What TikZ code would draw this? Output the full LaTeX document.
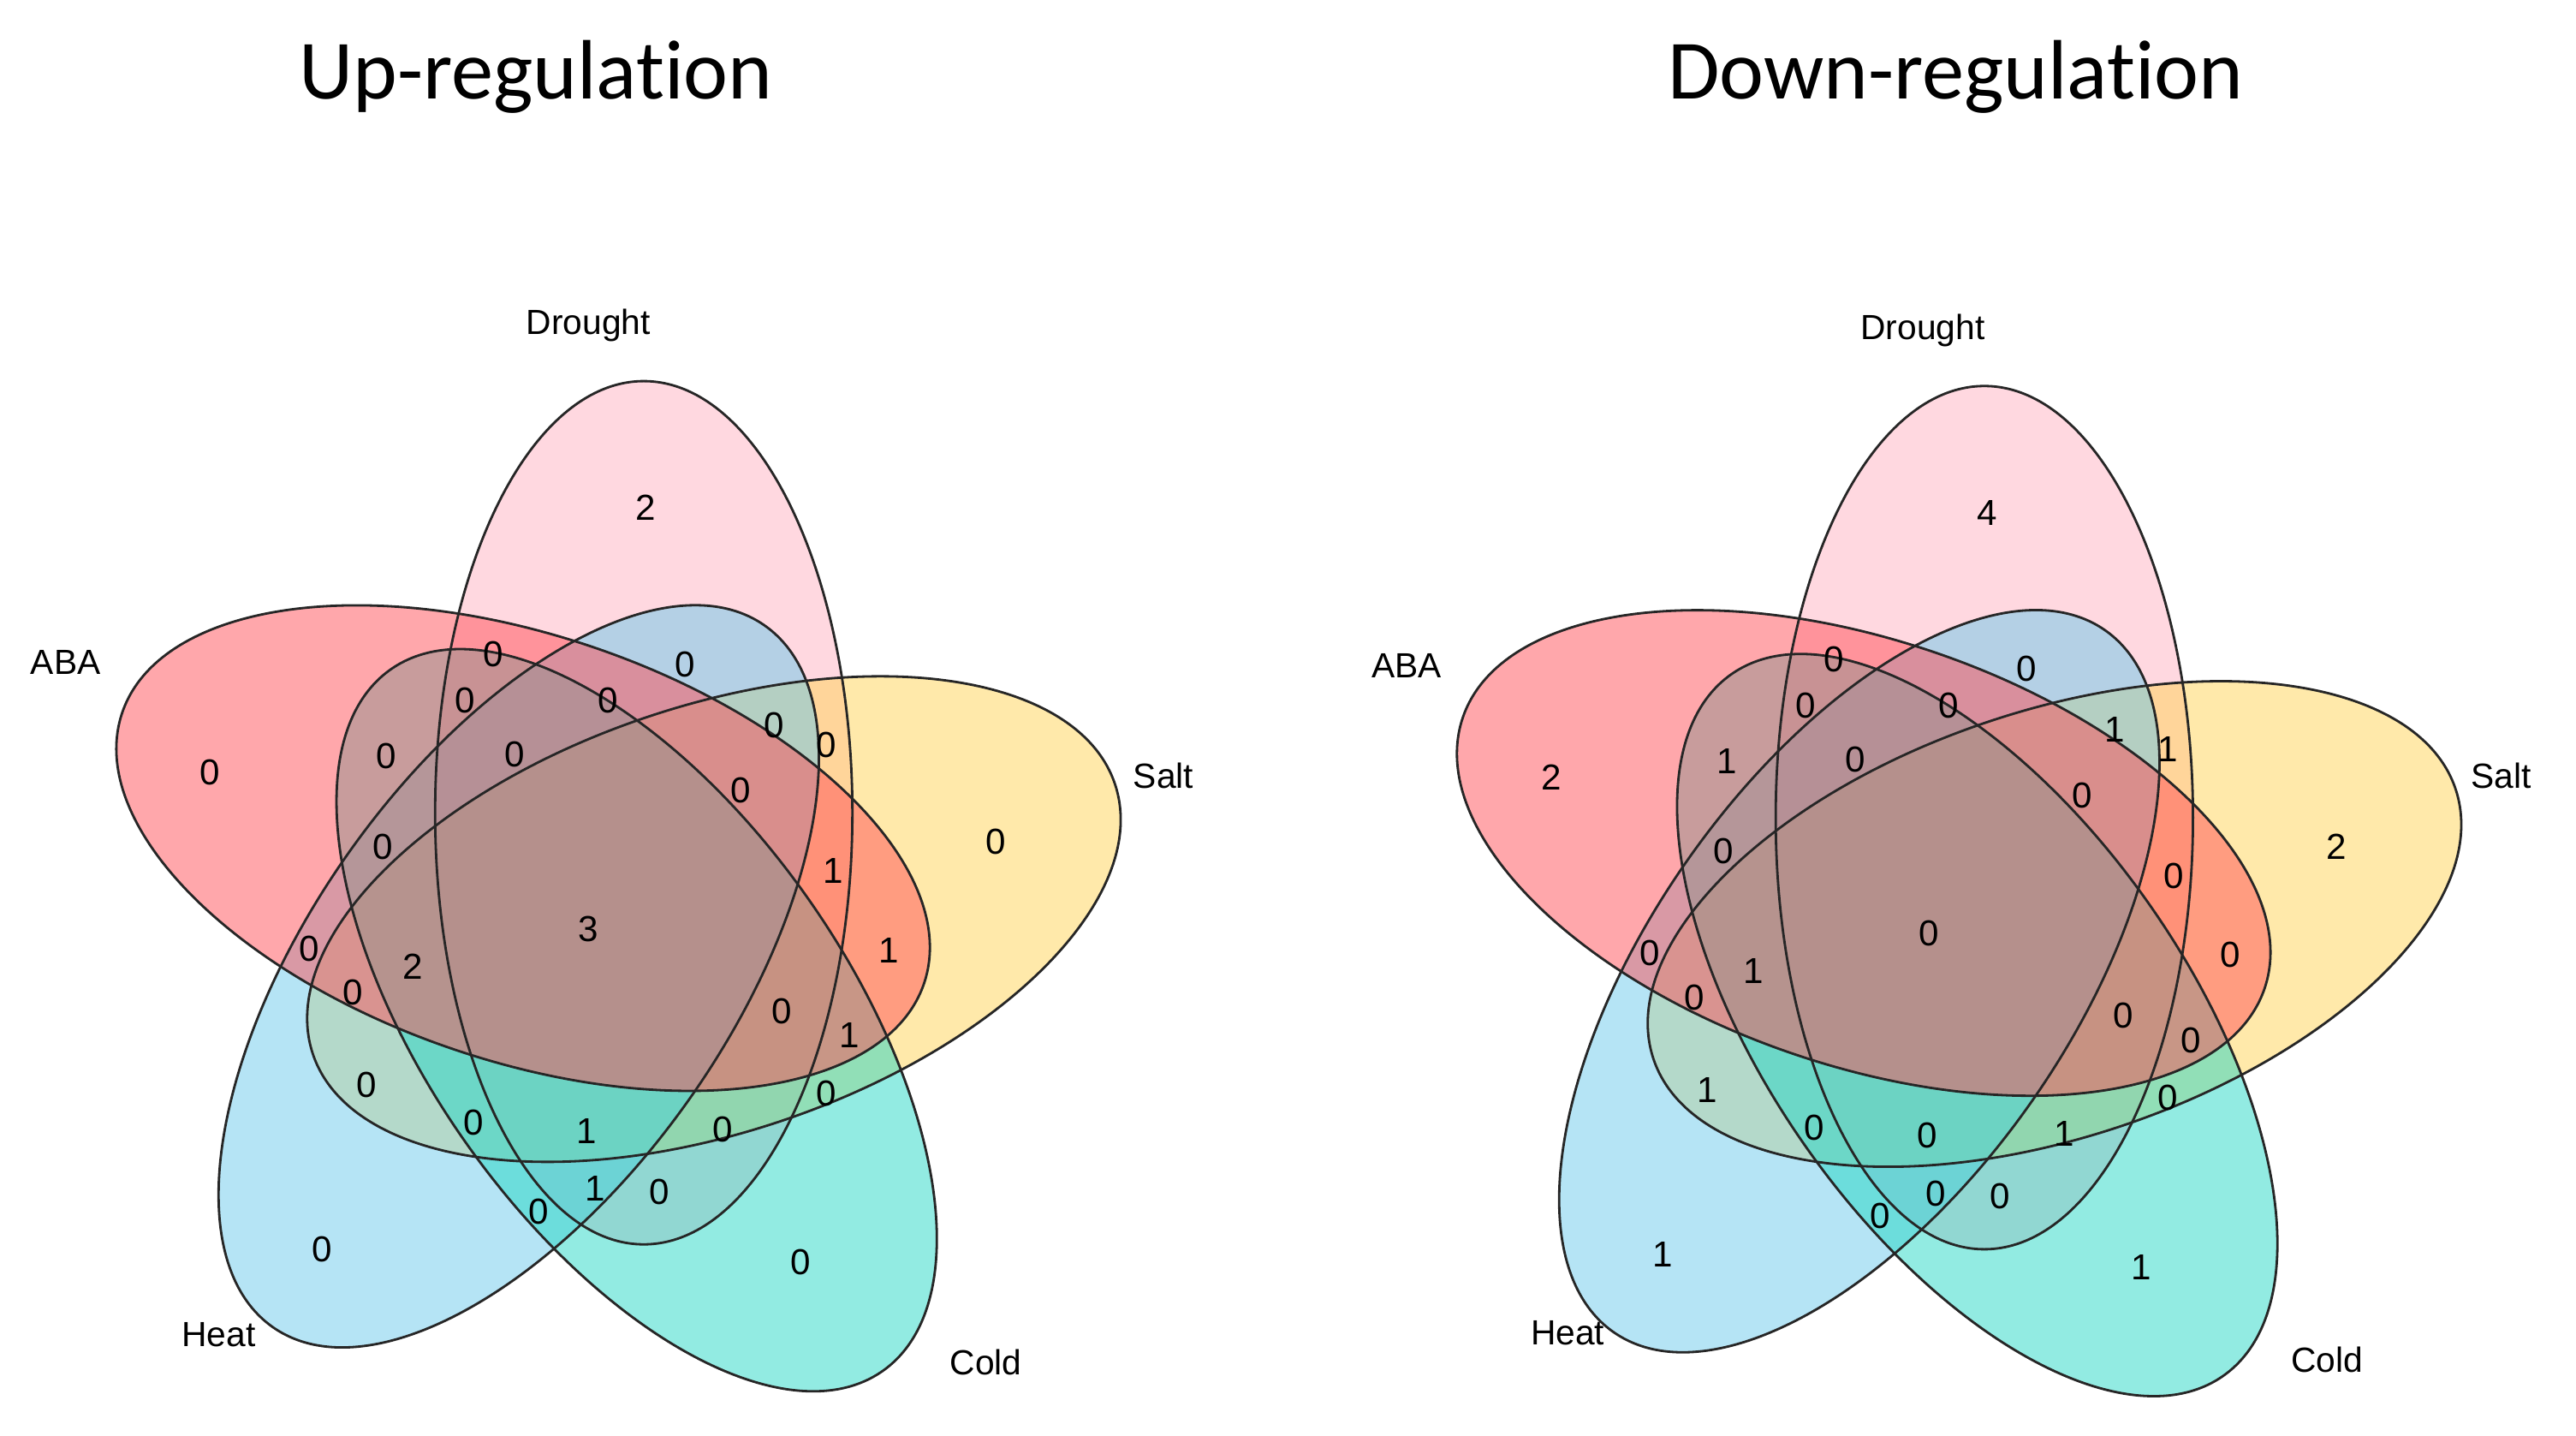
\documentclass[tikz,border=0pt]{standalone}
\usepackage{fontspec}
\setmainfont{Liberation Sans}
\newfontfamily\titlefont[Ligatures=NoCommon]{Carlito}

\definecolor{drought}{RGB}{255,177,193}
\definecolor{aba}{RGB}{255,79,87}
\definecolor{salt}{RGB}{255,211,85}
\definecolor{heat}{RGB}{107,201,235}
\definecolor{cold}{RGB}{37,215,197}

\begin{document}
\begin{tikzpicture}[
        setfill/.style={fill opacity=0.5},
        setline/.style={draw=black!85, line width=0.8pt},
        regnum/.style={font=\fontsize{12}{14}\selectfont, inner sep=0pt},
        setname/.style={font=\fontsize{11.6}{14}\selectfont, inner sep=0pt},
        heading/.style={font=\titlefont\fontsize{28}{34}\selectfont, inner sep=0pt, anchor=base}
    ]
    \useasboundingbox (0,0) rectangle (30.09,16.76);

    % five ellipses, turned by 72 degrees, for each diagram
    \foreach \cx/\cy in {7.093/6.071, 22.752/6.014} {
        \begin{scope}[shift={(\cx,\cy)}, yscale=1.022]
            \foreach \k/\col in {0/drought, 4/salt, 2/heat, 3/cold, 1/aba}
                \fill[\col, setfill, rotate=72*\k] (70:1.247) ellipse [x radius=2.437, y radius=4.932];
            \foreach \k in {0,...,4}
                \draw[setline, rotate=72*\k] (70:1.247) ellipse [x radius=2.437, y radius=4.932];
        \end{scope}
    }

    \begin{scope}[shift={(0,16.76)}, x=0.01919cm, y=-0.01919cm]
        % region counts: position, up, down
        \foreach \px/\py/\u/\d [count=\i] in {
                393/309/2/4, 300/398/0/0, 417/404/0/0, 283/426/0/0, 370/426/0/0,
                128/470/0/2, 235/460/0/1, 313/459/0/0, 471/441/0/1, 503/453/0/1,
                451/481/0/0, 606/512/0/2, 233/515/0/0, 507/530/1/0, 358/565/3/0,
                188/577/0/0, 251/588/2/1, 541/578/1/0, 215/604/0/0, 476/615/0/0,
                517/630/1/0, 223/660/0/1, 503/665/0/0, 288/683/0/0, 357/688/1/0,
                440/687/0/1, 362/723/1/0, 401/725/0/0, 328/737/0/0, 196/760/0/1,
                487/768/0/1} {
            \node[regnum] (up\i) at (\px,\py) {\u};
            \node[regnum] (down\i) at (\px+816,\py+3) {\d};
        }

        \node[setname] (drought-up) at (358,198) {Drought};
        \node[setname] (aba-up) at (40,403) {ABA};
        \node[setname] (salt-up) at (708,472) {Salt};
        \node[setname] (heat-up) at (133,812) {Heat};
        \node[setname] (cold-up) at (600,829) {Cold};

        \node[setname] (drought-down) at (1170,201) {Drought};
        \node[setname] (aba-down) at (856,405) {ABA};
        \node[setname] (salt-down) at (1522,472) {Salt};
        \node[setname] (heat-down) at (954,811) {Heat};
        \node[setname] (cold-down) at (1416,827) {Cold};

        \node[heading] (title-up) at (326,60) {Up-regulation};
        \node[heading] (title-down) at (1190,60) {Down-regulation};
    \end{scope}
\end{tikzpicture}
\end{document}
